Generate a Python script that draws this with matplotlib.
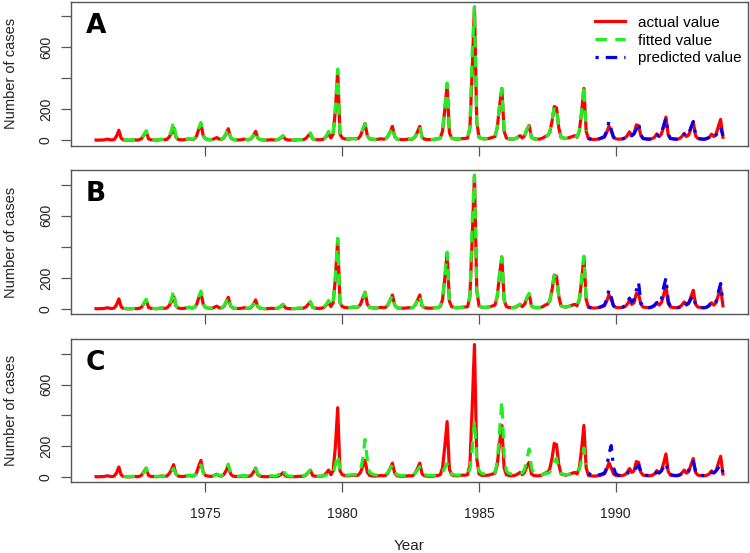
import numpy as np
import matplotlib
matplotlib.use("Agg")
import matplotlib.pyplot as plt
from matplotlib.ticker import FixedLocator, FixedFormatter

plt.rcParams['font.family'] = ['Liberation Sans', 'DejaVu Sans']

start_year = 1971
fit_start_year = 1972
pred_start_year = 1989

actual = [
    2, 1, 3, 2, 5, 8, 4, 3, 6, 28, 65, 14,            # 1971
    3, 2, 1, 1, 2, 3, 2, 4, 12, 35, 58, 10,           # 1972
    4, 3, 2, 2, 5, 6, 4, 6, 20, 45, 80, 22,           # 1973
    6, 4, 3, 5, 8, 10, 6, 8, 25, 70, 108, 30,         # 1974
    10, 6, 4, 5, 12, 18, 8, 6, 15, 40, 75, 20,        # 1975
    6, 4, 3, 3, 5, 8, 5, 4, 10, 30, 58, 14,           # 1976
    5, 3, 2, 2, 3, 4, 3, 3, 6, 15, 28, 8,             # 1977
    3, 2, 2, 2, 3, 5, 4, 5, 12, 28, 45, 10,           # 1978
    6, 4, 4, 5, 10, 25, 45, 15, 40, 200, 450, 40,     # 1979
    15, 10, 8, 8, 10, 12, 10, 12, 30, 70, 108, 30,    # 1980
    10, 8, 6, 6, 8, 10, 8, 10, 25, 55, 90, 25,        # 1981
    8, 6, 5, 5, 6, 8, 7, 9, 25, 55, 90, 20,           # 1982
    8, 6, 5, 5, 6, 8, 10, 15, 60, 200, 360, 50,       # 1983
    15, 10, 8, 8, 10, 12, 12, 15, 80, 450, 860, 120,  # 1984
    20, 12, 10, 10, 12, 15, 20, 25, 80, 220, 335, 60, # 1985
    15, 10, 8, 8, 12, 20, 30, 15, 30, 70, 95, 20,     # 1986
    10, 8, 8, 10, 15, 25, 30, 50, 120, 218, 210, 80,  # 1987
    20, 15, 12, 15, 20, 25, 30, 20, 60, 180, 335, 60, # 1988
    10, 8, 6, 6, 8, 10, 15, 20, 50, 92, 60, 20,       # 1989
    10, 8, 8, 10, 15, 30, 55, 30, 40, 100, 95, 30,    # 1990
    12, 10, 8, 8, 12, 20, 42, 25, 40, 90, 150, 35,    # 1991
    12, 10, 8, 8, 12, 25, 45, 25, 35, 80, 120, 30,    # 1992
    12, 10, 8, 8, 12, 20, 40, 25, 40, 90, 135, 20,    # 1993
]

fitted_A = [
    4, 3, 2, 2, 3, 4, 3, 5, 14, 38, 62, 12,
    4, 3, 2, 3, 5, 7, 5, 8, 25, 60, 120, 25,
    8, 5, 4, 5, 9, 12, 7, 9, 30, 75, 115, 28,
    9, 6, 4, 5, 11, 16, 9, 7, 18, 45, 79, 20,
    6, 4, 3, 3, 5, 8, 5, 5, 12, 32, 60, 14,
    5, 3, 2, 2, 3, 5, 3, 4, 8, 18, 30, 8,
    3, 2, 2, 2, 3, 5, 5, 6, 14, 30, 48, 10,
    6, 4, 4, 6, 12, 30, 58, 18, 45, 210, 460, 40,
    14, 10, 8, 8, 10, 12, 10, 13, 32, 72, 106, 30,
    10, 8, 6, 6, 8, 10, 8, 11, 26, 58, 89, 25,
    8, 6, 5, 5, 6, 8, 7, 9, 26, 58, 89, 20,
    8, 6, 5, 5, 6, 8, 10, 16, 65, 210, 370, 50,
    15, 10, 8, 8, 10, 12, 12, 15, 85, 560, 860, 120,
    20, 12, 10, 10, 12, 15, 20, 25, 85, 225, 334, 60,
    15, 10, 8, 8, 12, 20, 30, 15, 32, 72, 100, 20,
    10, 8, 8, 10, 15, 25, 30, 52, 125, 217, 205, 80,
    20, 15, 12, 15, 20, 25, 32, 22, 65, 190, 355, 60,
]

fitted_B = [
    4, 3, 2, 2, 3, 4, 3, 5, 14, 38, 62, 12,
    4, 3, 2, 3, 5, 7, 5, 8, 25, 60, 118, 25,
    8, 5, 4, 5, 9, 12, 7, 9, 30, 75, 115, 28,
    9, 6, 4, 5, 11, 16, 9, 7, 18, 45, 80, 20,
    6, 4, 3, 3, 5, 8, 5, 5, 12, 32, 60, 14,
    5, 3, 2, 2, 3, 5, 3, 4, 8, 18, 30, 8,
    3, 2, 2, 2, 3, 5, 5, 6, 14, 30, 48, 10,
    6, 4, 4, 6, 12, 30, 55, 18, 45, 210, 455, 40,
    14, 10, 8, 8, 10, 12, 10, 13, 32, 72, 106, 30,
    10, 8, 6, 6, 8, 10, 8, 11, 26, 58, 89, 25,
    8, 6, 5, 5, 6, 8, 7, 9, 26, 58, 89, 20,
    8, 6, 5, 5, 6, 8, 10, 16, 65, 210, 365, 50,
    15, 10, 8, 8, 10, 12, 12, 15, 85, 560, 860, 120,
    20, 12, 10, 10, 12, 15, 20, 25, 85, 225, 332, 60,
    15, 10, 8, 8, 12, 20, 30, 15, 32, 72, 100, 20,
    10, 8, 8, 10, 15, 25, 30, 52, 125, 215, 205, 80,
    20, 15, 12, 15, 20, 25, 32, 22, 65, 190, 340, 60,
]

fitted_C = [
    3, 3, 3, 3, 4, 5, 4, 5, 12, 30, 58, 20,
    6, 5, 4, 4, 5, 6, 5, 7, 15, 35, 55, 20,
    8, 6, 5, 6, 8, 12, 10, 10, 20, 50, 78, 30,
    10, 8, 6, 6, 10, 15, 12, 10, 20, 50, 84, 30,
    10, 8, 6, 6, 8, 10, 8, 8, 15, 35, 55, 20,
    8, 6, 5, 5, 6, 8, 6, 6, 15, 30, 51, 20,
    8, 6, 5, 5, 6, 8, 7, 8, 15, 30, 44, 15,
    8, 6, 5, 6, 8, 12, 20, 15, 25, 80, 144, 50,
    20, 15, 12, 12, 14, 16, 15, 20, 40, 120, 244, 110,
    30, 20, 15, 12, 12, 14, 12, 15, 30, 55, 78, 30,
    15, 12, 10, 10, 10, 12, 10, 12, 25, 45, 67, 25,
    15, 12, 10, 10, 10, 12, 12, 15, 30, 60, 89, 30,
    20, 15, 12, 12, 14, 16, 16, 20, 50, 180, 367, 120,
    40, 25, 20, 20, 22, 25, 25, 30, 100, 300, 493, 150,
    40, 25, 20, 18, 20, 25, 28, 25, 50, 120, 182, 60,
    25, 18, 15, 15, 18, 22, 25, 30, 60, 100, 122, 50,
    25, 18, 15, 15, 20, 25, 28, 25, 50, 110, 189, 80,
]

pred_A = [
    15, 8, 6, 6, 8, 12, 18, 25, 60, 121, 70, 20,
    10, 8, 8, 10, 15, 25, 40, 30, 45, 70, 111, 35,
    12, 10, 8, 8, 12, 20, 35, 28, 45, 95, 143, 40,
    12, 10, 8, 8, 12, 22, 40, 28, 40, 85, 121, 35,
    12, 10, 8, 8, 12, 20, 35, 25, 35, 60, 83, 30,
]

pred_B = [
    15, 8, 6, 6, 8, 12, 18, 25, 60, 121, 75, 20,
    10, 8, 8, 12, 20, 40, 70, 45, 60, 120, 170, 40,
    15, 10, 8, 10, 15, 25, 40, 30, 60, 140, 198, 50,
    15, 10, 8, 8, 12, 25, 42, 30, 40, 65, 85, 30,
    12, 10, 8, 8, 12, 25, 45, 30, 50, 110, 164, 40,
]

pred_C = [
    25, 15, 10, 10, 12, 15, 20, 25, 60, 150, 204, 60,
    20, 12, 10, 10, 14, 22, 33, 28, 40, 60, 78, 30,
    15, 12, 10, 10, 14, 20, 30, 28, 40, 65, 89, 35,
    15, 12, 10, 10, 14, 22, 32, 28, 45, 75, 100, 35,
    15, 12, 10, 10, 14, 20, 30, 28, 40, 60, 78, 30,
]

panel_labels = ["A", "B", "C"]
legend_labels = ["actual value", "fitted value", "predicted value"]
y_ticks = [0, 200, 400, 600, 800]
y_ticklabels = ["0", "200", "", "600", ""]
x_ticks = [1975, 1980, 1985, 1990]
x_ticklabels = ["1975", "1980", "1985", "1990"]

t_act = start_year + np.arange(len(actual)) / 12.0
t_fit = fit_start_year + np.arange(len(fitted_A)) / 12.0
t_pred = pred_start_year + np.arange(len(pred_A)) / 12.0

fig = plt.figure(figsize=(7.5, 5.53), dpi=100)
W, H = 750.0, 553.0
left, right = 71, 748
boxes = [(1.7, 145.7), (170.0, 314.3), (339.3, 482.3)]

fits = [fitted_A, fitted_B, fitted_C]
preds = [pred_A, pred_B, pred_C]

span = t_act[-1] - t_act[0]
xlim = (t_act[0] - 0.04 * span, t_act[-1] + 0.04 * span)
ymax = max(actual)
ylim = (-0.04 * ymax, ymax * 1.04)

frame_col = "#555555"
for i, (top, bot) in enumerate(boxes):
    ax = fig.add_axes([left / W, 1 - bot / H, (right - left) / W, (bot - top) / H])
    l1, = ax.plot(t_act, actual, color="#ff0000", lw=2.3, solid_joinstyle="round")
    l2, = ax.plot(t_fit, fits[i], color="#22ee22", lw=2.3, dashes=(3.6, 2.6))
    l3, = ax.plot(t_pred, preds[i], color="#0000ee", lw=2.3, dashes=(1, 2.2, 3.6, 2.2))
    ax.set_xlim(*xlim)
    ax.set_ylim(*ylim)
    for s in ax.spines.values():
        s.set_color(frame_col)
        s.set_linewidth(1.0)
    ax.yaxis.set_major_locator(FixedLocator(y_ticks))
    ax.yaxis.set_major_formatter(FixedFormatter(y_ticklabels))
    ax.xaxis.set_major_locator(FixedLocator(x_ticks))
    ax.tick_params(axis="both", direction="out", length=7, width=0.9, color=frame_col,
                   labelsize=10, labelcolor="#222222")
    ax.tick_params(axis="y", pad=6)
    for lab in ax.get_yticklabels():
        lab.set_rotation(90)
        lab.set_va("center")
    if i == 2:
        ax.set_xticklabels(x_ticklabels)
        ax.tick_params(axis="x", pad=11)
    else:
        ax.set_xticklabels([])
    ax.set_ylabel("Number of cases", fontsize=10.5, color="#222222")
    ax.yaxis.set_label_coords(-0.079, 0.5)
    ax.text(0.022, 0.785, panel_labels[i], transform=ax.transAxes, fontsize=19,
            fontweight="bold", family=["DejaVu Sans"], va="baseline", ha="left")
    if i == 0:
        ax.legend([l1, l2, l3], legend_labels, loc="upper right",
                  bbox_to_anchor=(0.999, 0.945), frameon=False, fontsize=11,
                  handlelength=2.0, handletextpad=0.8, labelspacing=0.25,
                  borderaxespad=0.0)

fig.text(409.5 / W, 1 - 546 / H, "Year", ha="center", va="center", fontsize=11, color="#222222")
fig.savefig("out.png", dpi=100)
